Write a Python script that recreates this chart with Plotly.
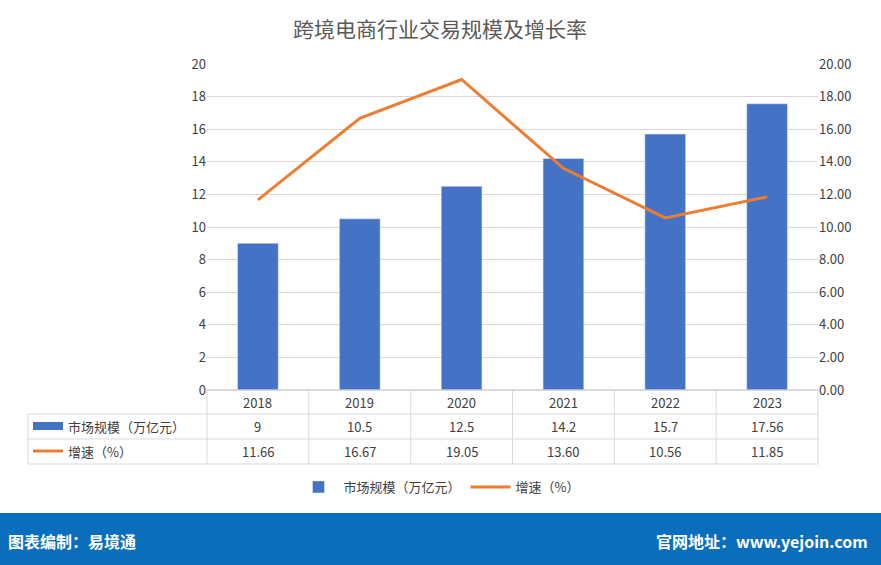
import plotly.graph_objects as go

years = ["2018", "2019", "2020", "2021", "2022", "2023"]
market = [9, 10.5, 12.5, 14.2, 15.7, 17.56]
growth = [11.66, 16.67, 19.05, 13.60, 10.56, 11.85]
market_labels = ["9", "10.5", "12.5", "14.2", "15.7", "17.56"]
growth_labels = ["11.66", "16.67", "19.05", "13.60", "10.56", "11.85"]
s1 = "市场规模（万亿元）"
s2 = "增速（%）"

W, H = 881, 565
L, R, T, B = 207, 63, 64, 175
pw, ph = W - L - R, H - T - B
def px(x): return (x - L) / pw
def py(y): return (H - B - y) / ph

blue = "#4472C4"; orange = "#ED7D31"; grid = "#D9D9D9"; txt = "#404040"
font = "Noto Sans CJK SC"
idx = list(range(len(years)))

fig = go.Figure()
fig.add_bar(x=idx, y=market, name=s1, marker_color=blue, width=0.4)
fig.add_scatter(x=idx, y=growth, name=s2, yaxis="y2", mode="lines",
                line=dict(color=orange, width=3))

shapes, ann = [], []
rows = [390, 414, 439, 464]
for r in rows:
    x0 = 28 if r != 390 else 207
    shapes.append(dict(type="line", xref="paper", yref="paper", x0=px(x0), x1=1,
                       y0=py(r), y1=py(r), line=dict(color=grid, width=1)))
for i in range(7):
    xx = i / 6
    shapes.append(dict(type="line", xref="paper", yref="paper", x0=xx, x1=xx,
                       y0=py(390), y1=py(464), line=dict(color=grid, width=1)))
shapes.append(dict(type="line", xref="paper", yref="paper", x0=px(28), x1=px(28),
                   y0=py(414), y1=py(464), line=dict(color=grid, width=1)))
def A(**k):
    k.setdefault("yanchor", "middle"); k.setdefault("showarrow", False)
    k.setdefault("yref", "paper")
    ann.append(k)
for i, y in enumerate(years):
    A(x=i, xref="x", y=py(402), text=y, font=dict(size=13, color=txt))
    A(x=i, xref="x", y=py(426), text=market_labels[i], font=dict(size=13, color=txt))
    A(x=i, xref="x", y=py(451), text=growth_labels[i], font=dict(size=13, color=txt))
shapes.append(dict(type="rect", xref="paper", yref="paper", x0=px(33), x1=px(63),
                   y0=py(422), y1=py(430), fillcolor=blue, line=dict(width=0)))
shapes.append(dict(type="line", xref="paper", yref="paper", x0=px(33), x1=px(63),
                   y0=py(451), y1=py(451), line=dict(color=orange, width=3)))
A(x=px(66), xref="paper", y=py(426), text=s1, xanchor="left", font=dict(size=13, color=txt))
A(x=px(66), xref="paper", y=py(451), text=s2, xanchor="left", font=dict(size=13, color=txt))
shapes.append(dict(type="rect", xref="paper", yref="paper", x0=px(-5), x1=px(W + 5),
                   y0=py(513), y1=py(570), fillcolor="#0A6EBD", line=dict(width=0), layer="below"))
A(x=px(6), xref="paper", y=py(541), text="<b>图表编制：易境通</b>",
  xanchor="left", font=dict(size=16, color="white"))
A(x=px(870), xref="paper", y=py(541), text="<b>官网地址：www.yejoin.com</b>",
  xanchor="right", font=dict(size=16, color="white"))

fig.update_layout(
    width=W, height=H, margin=dict(l=L, r=R, t=T, b=B),
    paper_bgcolor="white", plot_bgcolor="white",
    font=dict(family=font, color=txt, size=13),
    title=dict(text="跨境电商行业交易规模及增长率", x=px(440), xanchor="center", xref="paper",
               y=1 - 30 / H, yanchor="middle", font=dict(size=21, color="#595959")),
    xaxis=dict(range=[-0.5, 5.5], showticklabels=False, showgrid=False, showline=False, zeroline=False),
    yaxis=dict(range=[0, 20], dtick=2, gridcolor=grid, zeroline=True, zerolinecolor=grid,
               tickfont=dict(size=13, color=txt)),
    yaxis2=dict(range=[0, 20], dtick=2, overlaying="y", side="right", showgrid=False,
                tickformat=".2f", tickfont=dict(size=13, color=txt), zeroline=False),
    legend=dict(orientation="h", x=px(439), xanchor="center", xref="paper", y=py(487), yanchor="middle",
                font=dict(size=13, color=txt), itemwidth=40),
    shapes=shapes, annotations=ann,
)
fig.write_html("out.html", config={"displayModeBar": False},
               post_script="document.body.style.margin='0';")
